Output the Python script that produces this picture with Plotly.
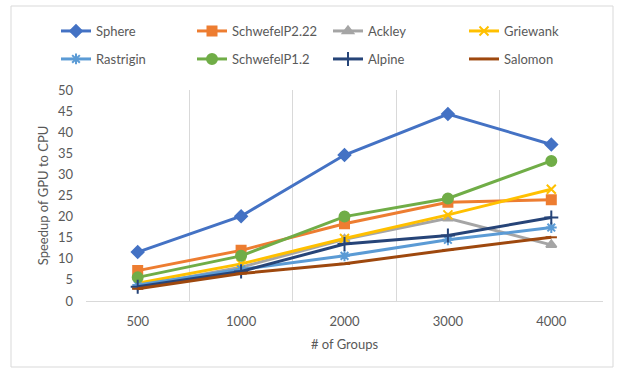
import plotly.graph_objects as go

# Number of groups (categories on the x axis)
groups = ["500", "1000", "2000", "3000", "4000"]

# Speedup of GPU over CPU for each benchmark function
sphere = [11.6, 20.1, 34.6, 44.3, 37.1]
schwefel_p222 = [7.2, 12.0, 18.3, 23.4, 24.0]
ackley = [3.5, 8.0, 14.6, 19.6, 13.3]
griewank = [4.2, 8.8, 14.8, 20.4, 26.5]
rastrigin = [3.8, 7.5, 10.7, 14.5, 17.4]
schwefel_p12 = [5.6, 10.7, 20.0, 24.3, 33.2]
alpine = [3.4, 7.0, 13.5, 15.5, 19.8]
salomon = [2.9, 6.5, 8.8, 12.1, 15.1]

# name, values, colour, marker symbol, marker size, legend row
series = [
    ("Sphere", sphere, "#4472C4", "diamond", 9, "legend"),
    ("SchwefelP2.22", schwefel_p222, "#ED7D31", "square", 9, "legend"),
    ("Ackley", ackley, "#A5A5A5", "triangle-up", 9, "legend"),
    ("Griewank", griewank, "#FFC000", "x-thin", 9, "legend"),
    ("Rastrigin", rastrigin, "#5B9BD5", "asterisk", 9, "legend2"),
    ("SchwefelP1.2", schwefel_p12, "#70AD47", "circle", 10, "legend2"),
    ("Alpine", alpine, "#264478", "cross-thin", 10, "legend2"),
    ("Salomon", salomon, "#9E480E", "line-ew", 8, "legend2"),
]

xpos = list(range(len(groups)))

fig = go.Figure()
for name, vals, color, symbol, size, leg in series:
    fig.add_trace(go.Scatter(
        x=xpos, y=vals, name=name, mode="lines+markers",
        line=dict(color=color, width=3),
        marker=dict(symbol=symbol, size=size, color=color,
                    line=dict(color=color, width=2)),
        legend=leg,
    ))

font_family = "Lato, 'Open Sans', sans-serif"
text_color = "#595959"
grid_color = "#D9D9D9"

# plot area geometry in pixels (for placing the outer frame and legends)
W, H = 624, 371
L, R, T, B = 86, 21, 90, 70
pw, ph = W - L - R, H - T - B

def px_to_paper_x(px):
    return (px - L) / pw

def px_to_paper_y(py):
    return (H - B - py) / ph

def legend_row(top_px):
    return dict(
        orientation="h", x=px_to_paper_x(56), y=px_to_paper_y(top_px),
        xanchor="left", yanchor="top",
        entrywidth=91, entrywidthmode="pixels",
        font=dict(family=font_family, size=13, color=text_color),
        bgcolor="rgba(0,0,0,0)",
    )

fig.update_layout(
    width=W, height=H,
    margin=dict(l=L, r=R, t=T, b=B, pad=0),
    paper_bgcolor="white", plot_bgcolor="white",
    font=dict(family=font_family, size=13, color=text_color),
    showlegend=True,
    legend=legend_row(16),
    legend2=legend_row(44),
    xaxis=dict(
        range=[-0.5, len(groups) - 0.5],
        tickmode="array", tickvals=xpos, ticktext=groups,
        showgrid=False, zeroline=False,
        showline=True, linecolor=grid_color, linewidth=1,
        ticks="", ticklabelstandoff=8,
        tickfont=dict(size=13, color=text_color),
        minor=dict(tickmode="array",
                   tickvals=[i - 0.5 for i in range(len(groups) + 1)],
                   showgrid=True, gridcolor=grid_color, gridwidth=1, ticks=""),
        title=dict(text="# of Groups", standoff=12,
                   font=dict(size=13, color=text_color)),
    ),
    yaxis=dict(
        range=[0, 50], tickmode="linear", tick0=0, dtick=5,
        showgrid=False, zeroline=False, showline=False,
        ticks="", ticklabelstandoff=12,
        tickfont=dict(size=13, color=text_color),
        title=dict(text="Speedup of GPU to CPU", standoff=6,
                   font=dict(size=13, color=text_color)),
    ),
    shapes=[dict(
        type="rect", xref="paper", yref="paper",
        x0=px_to_paper_x(11), x1=px_to_paper_x(613),
        y0=px_to_paper_y(367), y1=px_to_paper_y(6),
        line=dict(color=grid_color, width=1), fillcolor="rgba(0,0,0,0)",
        layer="below",
    )],
)

fig.write_html("out.html")
